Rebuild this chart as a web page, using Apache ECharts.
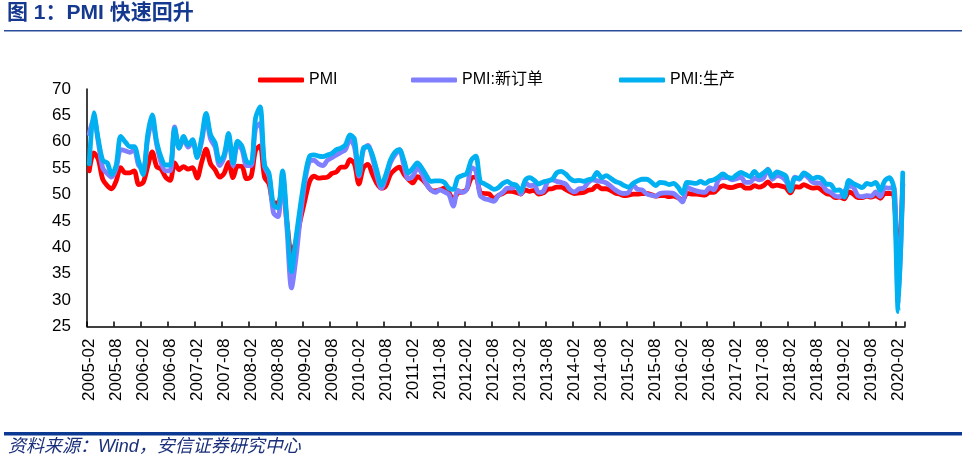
<!DOCTYPE html>
<html>
<head>
<meta charset="utf-8">
<script src="https://cdn.jsdelivr.net/npm/echarts@6/dist/echarts.min.js"></script>
<style>
html,body{margin:0;padding:0;background:#fff;}
#chart{width:967px;height:461px;}
</style>
</head>
<body>
<div id="chart"></div>
<script>
// ---- data (monthly, 2005-02 .. 2020-03) ----
var startYear = 2005, startMonth = 2, monthCount = 182;
var categories = [];
for (var k = 0; k < monthCount; k++) {
  var m = startMonth - 1 + k;
  var yy = startYear + Math.floor(m / 12), mm = (m % 12) + 1;
  categories.push(yy + '-' + (mm < 10 ? '0' + mm : '' + mm));
}

var pmi = [
  54.5, 57.9, 56.7, 52.9, 51.7, 51.1, 52.6, 55.1, 54.1, 54.1, 54.5,
  51.9, 52.3, 55.3, 58.1, 55.3, 54.8, 53.3, 52.7, 56.0, 54.7, 55.3, 54.8,
  55.1, 53.1, 56.1, 58.6, 55.8, 54.7, 53.3, 54.0, 56.1, 53.2, 55.4, 55.3,
  53.0, 53.4, 58.4, 59.2, 53.3, 52.0, 48.4, 48.4, 51.2, 44.6, 38.8, 41.2,
  45.3, 49.0, 52.4, 53.5, 53.1, 53.2, 53.3, 54.0, 54.3, 55.2, 55.2, 56.6,
  55.8, 52.0, 55.1, 55.7, 53.9, 52.1, 51.2, 51.7, 53.8, 54.7, 55.2, 53.9,
  52.9, 52.2, 53.4, 52.9, 52.0, 50.9, 50.7, 50.9, 51.2, 50.4, 49.0, 50.3,
  50.5, 51.0, 53.1, 53.3, 50.4, 50.2, 50.1, 49.2, 49.8, 50.2, 50.6, 50.6,
  50.4, 50.1, 50.9, 50.6, 50.8, 50.1, 50.3, 51.0, 51.1, 51.4, 51.4, 51.0,
  50.5, 50.2, 50.3, 50.4, 50.8, 51.0, 51.7, 51.1, 51.1, 50.8, 50.3, 50.1,
  49.8, 49.9, 50.1, 50.1, 50.2, 50.2, 50.0, 49.7, 49.8, 49.8, 49.6, 49.7,
  49.4, 49.0, 50.2, 50.1, 50.1, 50.0, 49.9, 50.4, 50.4, 51.2, 51.7, 51.4,
  51.3, 51.6, 51.8, 51.2, 51.2, 51.7, 51.4, 51.7, 52.4, 51.6, 51.8, 51.6,
  51.3, 50.3, 51.5, 51.4, 51.9, 51.5, 51.2, 51.3, 50.8, 50.2, 50.0, 49.4,
  49.5, 49.2, 50.5, 50.1, 49.4, 49.4, 49.7, 49.5, 49.8, 49.3, 50.2, 50.2,
  50.0, 35.7, 52.0
];

var newOrders = [
  61.5, 64.5, 60.0, 55.0, 54.0, 53.3, 55.0, 58.5, 58.3, 58.0, 58.5,
  55.5, 55.0, 60.5, 64.0, 59.5, 56.0, 54.5, 54.5, 62.8, 58.8, 60.5, 59.0,
  60.0, 57.3, 60.0, 64.5, 60.5, 59.0, 55.5, 57.0, 60.5, 55.5, 59.5, 58.5,
  55.5, 55.5, 62.5, 63.5, 55.3, 53.5, 46.5, 45.8, 53.5, 43.5, 32.3, 38.0,
  46.0, 52.5, 56.3, 56.5, 55.8, 55.5, 56.5, 57.0, 57.5, 58.0, 58.5, 60.5,
  59.0, 53.5, 58.5, 59.3, 57.0, 53.5, 51.2, 53.2, 56.0, 57.5, 58.5, 55.5,
  53.0, 53.5, 55.0, 54.0, 52.0, 50.9, 50.4, 50.9, 50.5, 50.0, 47.8, 50.8,
  50.4, 51.0, 55.1, 54.5, 49.8, 49.2, 49.0, 48.7, 49.8, 50.4, 51.2, 51.2,
  51.6, 50.1, 52.3, 51.7, 51.8, 50.4, 50.6, 52.4, 52.8, 52.5, 52.3, 52.0,
  50.9, 50.5, 51.1, 51.2, 52.3, 52.8, 52.6, 52.5, 52.2, 51.6, 50.9, 50.4,
  50.2, 50.4, 51.8, 51.0, 50.9, 50.1, 49.9, 49.7, 50.2, 50.3, 50.3, 50.2,
  49.5, 48.6, 51.4, 51.0, 50.7, 50.5, 50.4, 51.3, 50.9, 52.8, 53.2, 53.2,
  52.8, 53.0, 53.3, 52.3, 52.3, 53.1, 52.8, 53.1, 54.8, 52.9, 53.6, 53.4,
  52.6, 51.0, 53.3, 52.9, 53.8, 53.2, 52.3, 52.2, 52.0, 50.8, 50.4, 49.7,
  49.6, 50.6, 51.6, 51.4, 49.8, 49.6, 49.8, 49.7, 50.5, 49.6, 51.3, 51.2,
  51.4, 29.3, 52.0
];

var production = [
  55.8, 65.5, 60.5, 56.5, 56.0, 53.8, 55.6, 61.0, 60.0, 59.1, 59.1,
  56.3, 53.8, 61.3, 65.1, 60.0, 57.0, 55.6, 55.6, 62.5, 58.8, 61.0, 59.4,
  60.4, 57.0, 60.7, 65.4, 61.3, 59.8, 56.3, 57.5, 61.6, 56.0, 60.1, 59.1,
  56.3, 56.0, 64.5, 66.6, 55.6, 54.0, 48.0, 47.5, 54.5, 45.0, 35.4, 41.8,
  48.0, 53.5, 57.2, 57.5, 57.3, 57.2, 57.5, 57.8, 58.5, 58.8, 59.4, 61.3,
  60.5, 53.8, 58.8, 59.1, 57.5, 54.5, 51.8, 53.8, 56.5, 58.0, 58.5, 56.5,
  54.1, 55.0, 56.0, 55.0, 53.6, 52.5, 52.6, 52.6, 52.3, 51.2, 51.0, 53.2,
  53.6, 54.0, 56.5, 57.3, 52.5, 52.0, 51.5, 51.0, 51.3, 52.1, 52.5, 52.0,
  51.8, 50.6, 52.7, 53.2, 52.7, 52.0, 52.4, 52.6, 52.9, 54.1, 54.4, 53.9,
  53.0, 52.6, 52.7, 52.5, 52.8, 53.0, 54.2, 53.2, 53.6, 53.1, 52.5, 52.2,
  51.7, 51.4, 52.1, 52.6, 52.9, 52.9, 52.4, 51.7, 52.3, 52.2, 51.9, 52.1,
  51.4, 50.2, 52.3, 52.2, 52.1, 52.5, 52.1, 52.6, 52.8, 53.3, 53.9, 53.3,
  53.1, 53.7, 54.2, 53.8, 53.4, 54.4, 53.5, 54.1, 54.7, 53.4, 54.3, 54.0,
  53.5, 50.7, 53.1, 53.1, 54.1, 53.6, 53.0, 53.3, 53.0, 52.0, 51.9, 50.8,
  50.9, 49.5, 52.7, 52.1, 51.7, 51.3, 52.1, 51.9, 52.3, 50.8, 52.6, 53.2,
  51.3, 27.8, 54.1
];

var seriesNames = ['PMI', 'PMI:新订单', 'PMI:生产'];
var seriesColors = ['#FF0000', '#7F7FFF', '#00B0F0'];
var titleText = '图 1：PMI 快速回升';
var sourceText = '资料来源：Wind，安信证券研究中心';

var chart = echarts.init(document.getElementById('chart'), null, {renderer: 'canvas'});
var fontLatin = 'Liberation Sans, Arial, "Noto Sans CJK SC", sans-serif';

function legendFor(name, left) {
  return {
    data: [name], left: left, top: 67, icon: 'roundRect',
    itemWidth: 46, itemHeight: 5, itemGap: 0,
    textStyle: {fontSize: 16, color: '#000', fontFamily: fontLatin, padding: [0, 0, 0, 0]}
  };
}

function lineSeries(name, data, color) {
  return {
    name: name, type: 'line', data: data, showSymbol: false, symbol: 'none',
    smooth: 0.3, lineStyle: {width: 4.8, color: color, cap: 'round', join: 'round'},
    itemStyle: {color: color}, animation: false
  };
}

chart.setOption({
  backgroundColor: '#fff',
  animation: false,
  color: seriesColors,
  grid: {left: 87, right: 62, top: 89, bottom: 134.5, containLabel: false},
  legend: [legendFor(seriesNames[0], 253), legendFor(seriesNames[1], 406), legendFor(seriesNames[2], 614)],
  xAxis: {
    type: 'category', data: categories, boundaryGap: true,
    axisLine: {lineStyle: {color: '#000', width: 1.5}},
    axisTick: {show: true, inside: true, length: 5, interval: 5, lineStyle: {color: '#000', width: 1.5}},
    axisLabel: {interval: 5, rotate: 90, fontSize: 17, color: '#000', margin: 12, fontFamily: fontLatin},
    splitLine: {show: false}
  },
  yAxis: {
    type: 'value', min: 25, max: 70, interval: 5,
    axisLine: {show: true, lineStyle: {color: '#000', width: 1.5}},
    axisTick: {show: false},
    axisLabel: {fontSize: 17, color: '#000', margin: 16, fontFamily: fontLatin},
    splitLine: {show: false}
  },
  series: [
    lineSeries(seriesNames[0], pmi, seriesColors[0]),
    lineSeries(seriesNames[1], newOrders, seriesColors[1]),
    lineSeries(seriesNames[2], production, seriesColors[2])
  ],
  graphic: [
    {type: 'text', left: 7, top: 3, style: {text: titleText, fill: '#15398F',
      font: 'bold 21px Liberation Sans, "Noto Sans CJK SC", sans-serif'}},
    {type: 'rect', shape: {x: 4, y: 30, width: 958, height: 1.5}, style: {fill: '#2B4C9B'}},
    {type: 'rect', shape: {x: 4, y: 432, width: 958, height: 3.5}, style: {fill: '#0B3890'}},
    {type: 'text', left: 8, top: 438, style: {text: sourceText, fill: '#1A2F7A',
      font: 'italic 18px Liberation Sans, "Noto Sans CJK SC", sans-serif'}}
  ]
});
</script>
</body>
</html>
